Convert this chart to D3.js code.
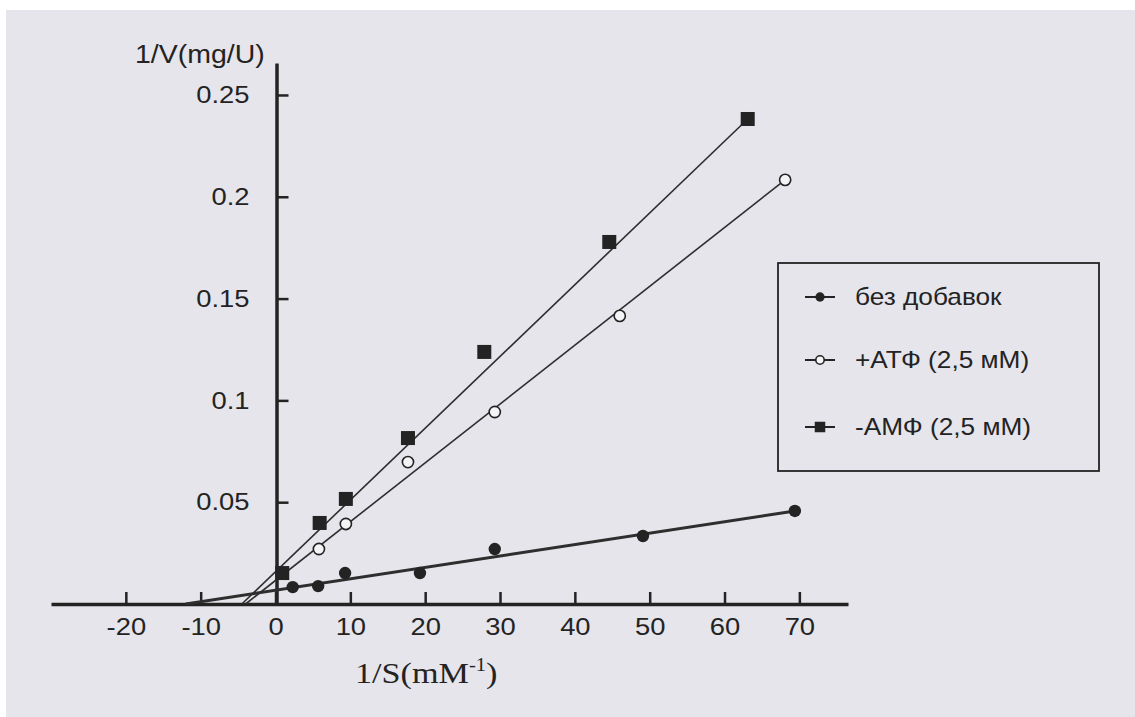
<!DOCTYPE html>
<html>
<head>
<meta charset="utf-8">
<script src="https://cdn.jsdelivr.net/npm/d3@7"></script>
<style>
  html, body { margin: 0; padding: 0; background: #fff; }
  svg { display: block; }
</style>
</head>
<body>
<div id="container"></div>
<script>
// data (1/S in mM^-1, 1/V in mg/U)
var xTicks = [-20, -10, 0, 10, 20, 30, 40, 50, 60, 70];
var yTicks = [0.05, 0.1, 0.15, 0.2, 0.25];

var seriesNames = ["без добавок", "+АТФ (2,5 мМ)", "-АМФ (2,5 мМ)"];
var seriesSymbols = ["dot", "ring", "square"];

var plainX = [2.3, 5.7, 9.3, 19.3, 29.3, 49.1, 69.4];
var plainY = [0.0083, 0.0088, 0.0152, 0.0152, 0.027, 0.0334, 0.0457];

var atpX = [5.8, 9.4, 17.7, 29.3, 46.0, 68.1];
var atpY = [0.027, 0.0393, 0.0697, 0.0943, 0.1415, 0.2083];

var ampX = [0.9, 5.9, 9.4, 17.7, 27.9, 44.6, 63.1];
var ampY = [0.0152, 0.0398, 0.0516, 0.0815, 0.1238, 0.1778, 0.2382];

// fitted lines: [x0, y0, x1, y1]
var fitLines = [
  [-12, 0, 69.4, 0.0457],
  [-4, 0, 68.1, 0.2083],
  [-4.5, 0, 63.1, 0.2382]
];

var W = 1135, H = 717;
var stretch = 1.14; // the scan is a bit wider than tall

var svg = d3.select("#container").append("svg")
  .attr("width", W)
  .attr("height", H);

// paper
svg.append("rect").attr("width", W).attr("height", H).attr("fill", "#ffffff");
svg.append("rect")
  .attr("x", 6).attr("y", 10)
  .attr("width", W - 6).attr("height", H - 10)
  .attr("fill", "#e5e5eb");

// scales
var x = d3.scaleLinear()
  .domain([-30, 76.5])
  .range([51, 848]);

var y = d3.scaleLinear()
  .domain([0, 0.2657])
  .range([604, 63]);

var ink = "#232323";

// x axis
var xAxis = svg.append("g")
  .attr("transform", "translate(0," + y(0) + ")")
  .call(d3.axisBottom(x)
    .tickValues(xTicks)
    .tickFormat(d3.format("d"))
    .tickSizeInner(-12)
    .tickSizeOuter(0)
    .tickPadding(14));

xAxis.select(".domain").attr("stroke", ink).attr("stroke-width", 3.5);
xAxis.selectAll(".tick line").attr("stroke", ink).attr("stroke-width", 2.5);
xAxis.selectAll(".tick text")
  .attr("fill", ink)
  .attr("font-family", "'Liberation Sans', Arial, sans-serif")
  .attr("font-size", 24)
  .attr("transform", "scale(" + stretch + ",1)")
  .text(function(d) { return d < 0 ? "-" + Math.abs(d) : d; });

// y axis
var yAxis = svg.append("g")
  .attr("transform", "translate(" + (x(0) + 1) + ",0)")
  .call(d3.axisLeft(y)
    .tickValues(yTicks)
    .tickFormat(function(d) { return String(d); })
    .tickSizeInner(-12)
    .tickSizeOuter(0)
    .tickPadding(27));

yAxis.select(".domain").attr("stroke", ink).attr("stroke-width", 3.5);
yAxis.selectAll(".tick line").attr("stroke", ink).attr("stroke-width", 2.5);
yAxis.selectAll(".tick text")
  .attr("fill", ink)
  .attr("font-family", "'Liberation Sans', Arial, sans-serif")
  .attr("font-size", 24)
  .attr("x", -27 / stretch)
  .attr("transform", "scale(" + stretch + ",1)");

// axis titles
svg.append("g")
  .attr("transform", "translate(135,63) scale(" + stretch + ",1)")
  .append("text")
    .attr("fill", ink)
    .attr("font-family", "'Liberation Sans', Arial, sans-serif")
    .attr("font-size", 25)
    .text("1/V(mg/U)");

var xTitle = svg.append("g")
  .attr("transform", "translate(355,683) scale(" + stretch + ",1)")
  .append("text")
    .attr("fill", ink)
    .attr("font-family", "'Liberation Serif', 'Times New Roman', serif")
    .attr("font-size", 30);
xTitle.append("tspan").text("1/S(mM");
xTitle.append("tspan").attr("font-size", 18).attr("dy", -12).text("-1");
xTitle.append("tspan").attr("dy", 12).text(")");

// fit lines
svg.append("g").selectAll("line")
  .data(fitLines)
  .enter().append("line")
    .attr("x1", function(d) { return x(d[0]); })
    .attr("y1", function(d) { return y(d[1]); })
    .attr("x2", function(d) { return x(d[2]); })
    .attr("y2", function(d) { return y(d[3]); })
    .attr("stroke", "#2e2e2e")
    .attr("stroke-width", function(d, i) { return i === 0 ? 3 : 1.6; });

// markers
function drawSymbol(g, kind, cx, cy, s) {
  if (kind === "dot") {
    g.append("circle").attr("cx", cx).attr("cy", cy).attr("r", 6.2 * s).attr("fill", ink);
  } else if (kind === "ring") {
    g.append("circle").attr("cx", cx).attr("cy", cy).attr("r", 5.6 * s)
      .attr("fill", "#f4f4f6").attr("stroke", ink).attr("stroke-width", 1.6);
  } else {
    g.append("rect").attr("x", cx - 7 * s).attr("y", cy - 7 * s)
      .attr("width", 14 * s).attr("height", 14 * s).attr("fill", ink);
  }
}

var pts = svg.append("g");
[[plainX, plainY], [atpX, atpY], [ampX, ampY]].forEach(function(s, k) {
  s[0].forEach(function(v, i) {
    drawSymbol(pts, seriesSymbols[k], x(v), y(s[1][i]), 1);
  });
});

// legend
var legend = svg.append("g");
legend.append("rect")
  .attr("x", 778).attr("y", 263)
  .attr("width", 321).attr("height", 208)
  .attr("fill", "none")
  .attr("stroke", ink)
  .attr("stroke-width", 1.8);

var legendY = [297, 360, 427];
seriesNames.forEach(function(name, i) {
  legend.append("line")
    .attr("x1", 805).attr("x2", 835)
    .attr("y1", legendY[i]).attr("y2", legendY[i])
    .attr("stroke", ink).attr("stroke-width", 2);
  drawSymbol(legend, seriesSymbols[i], 820, legendY[i], 0.75);
  legend.append("g")
    .attr("transform", "translate(855," + legendY[i] + ") scale(" + stretch + ",1)")
    .append("text")
      .attr("dy", "0.35em")
      .attr("fill", ink)
      .attr("font-family", "'Liberation Sans', Arial, sans-serif")
      .attr("font-size", 23)
      .text(name);
});
</script>
</body>
</html>
